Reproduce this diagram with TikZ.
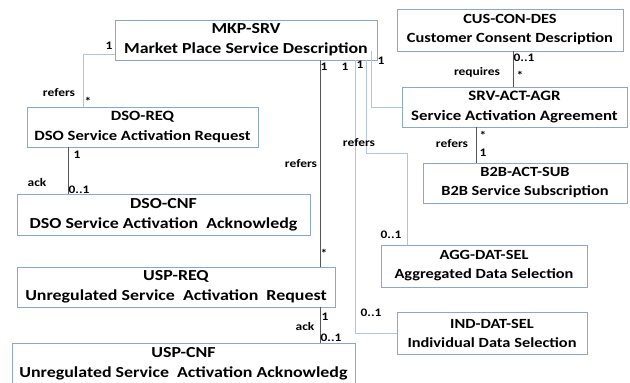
\documentclass[tikz,border=0pt]{standalone}
\usepackage{fontspec}
\setmainfont[FakeStretch=1.17]{Carlito}
\definecolor{boxline}{HTML}{8FA6C6}
\definecolor{liteline}{HTML}{B3C5DC}
\definecolor{darkline}{HTML}{555555}
\tikzset{
  entity/.style={draw=boxline, line width=0.9pt, fill=white, align=center,
    inner sep=0pt, font=\bfseries\fontsize{15.3}{20}\selectfont},
  midentity/.style={entity, font=\bfseries\fontsize{14.4}{20}\selectfont},
  smallentity/.style={entity, font=\bfseries\fontsize{14}{19}\selectfont},
  lite/.style={draw=liteline, line width=1pt},
  dark/.style={draw=darkline, line width=0.9pt},
  lbl/.style={inner sep=0pt, font=\bfseries\fontsize{11.5}{13}\selectfont}
}
\begin{document}
\begin{tikzpicture}[x=1pt, y=-1pt]
\useasboundingbox (0,0) rectangle (630,383);

% classes
\node[entity, minimum width=262, minimum height=40] (mkp) at (246,40)
  {MKP-SRV\\Market Place Service Description};
\node[smallentity, minimum width=226, minimum height=42] (cus) at (510,30)
  {CUS-CON-DES\\Customer Consent Description};
\node[midentity, minimum width=225, minimum height=40] (srv) at (514.5,107)
  {SRV-ACT-AGR\\Service Activation Agreement};
\node[smallentity, minimum width=204, minimum height=40] (b2b) at (525,183)
  {B2B-ACT-SUB\\B2B Service Subscription};
\node[smallentity, minimum width=206, minimum height=42] (agg) at (484,266)
  {AGG-DAT-SEL\\Aggregated Data Selection};
\node[smallentity, minimum width=190, minimum height=42] (ind) at (492,333)
  {IND-DAT-SEL\\Individual Data Selection};
\node[entity, font=\bfseries\fontsize{14.2}{20}\selectfont,
  minimum width=231, minimum height=40] (dsoreq) at (142.5,127)
  {DSO-REQ\\DSO Service Activation Request};
\node[entity, minimum width=293, minimum height=41] (dsocnf) at (163.5,214.5)
  {DSO-CNF\\DSO Service Activation\ \ Acknowledg};
\node[entity, minimum width=318, minimum height=40] (uspreq) at (176,287)
  {USP-REQ\\Unregulated Service\ \ Activation\ \ Request};
\node[entity, minimum width=343, minimum height=41] (uspcnf) at (183.5,363.5)
  {USP-CNF\\Unregulated Service\ \ Activation Acknowledg};

% associations
\draw[lite] ([yshift=6pt]mkp.south west) -| ([xshift=-59.5pt]dsoreq.north);
\draw[dark] ([xshift=-74.5pt]dsoreq.south) -- ([xshift=-74.5pt]dsoreq.south |- dsocnf.north);
\draw[dark] ([xshift=74pt]mkp.south) -- ([xshift=74pt]mkp.south |- uspreq.north);
\draw[dark] ([xshift=144pt]uspreq.south) -- ([xshift=144pt]uspreq.south |- uspcnf.north);
\draw[lite] ([xshift=109pt]mkp.south) |- (ind.west);
\draw[lite] ([xshift=120pt]mkp.south) -- ++(0,93) -| ([xshift=-77pt]agg.north);
\draw[lite] ([xshift=125pt,yshift=9pt]mkp.south) |- (srv.west);
\draw[dark] ([xshift=3pt]cus.south) -- ([xshift=3pt]cus.south |- srv.north);
\draw[dark] ([xshift=-38.5pt]srv.south) -- ([xshift=-38.5pt]srv.south |- b2b.north);

% multiplicities and role names
\node[lbl] (m1) at (109,46) {1};
\node[lbl] (r1) at (59,93) {refers};
\node[lbl] (s1) at (88,101) {*};
\node[lbl] (m2) at (77,155) {1};
\node[lbl] (a1) at (37,183) {ack};
\node[lbl] (z1) at (79,190) {0..1};
\node[lbl] (m3) at (324,67) {1};
\node[lbl] (r2) at (301,164) {refers};
\node[lbl] (s2) at (324,253) {*};
\node[lbl] (m4) at (325,317) {1};
\node[lbl] (a2) at (305,327) {ack};
\node[lbl] (z2) at (331,338) {0..1};
\node[lbl] (m5) at (345,67) {1};
\node[lbl] (m6) at (360,65) {1};
\node[lbl] (m7) at (381,61) {1};
\node[lbl] (r3) at (359,143) {refers};
\node[lbl] (z3) at (391,235) {0..1};
\node[lbl] (z4) at (371,313) {0..1};
\node[lbl] (z5) at (524,58) {0..1};
\node[lbl] (s3) at (520,75) {*};
\node[lbl] (q1) at (477,72) {requires};
\node[lbl] (s4) at (483,135) {*};
\node[lbl] (m8) at (483,153) {1};
\node[lbl] (r4) at (452,144) {refers};
\end{tikzpicture}
\end{document}
